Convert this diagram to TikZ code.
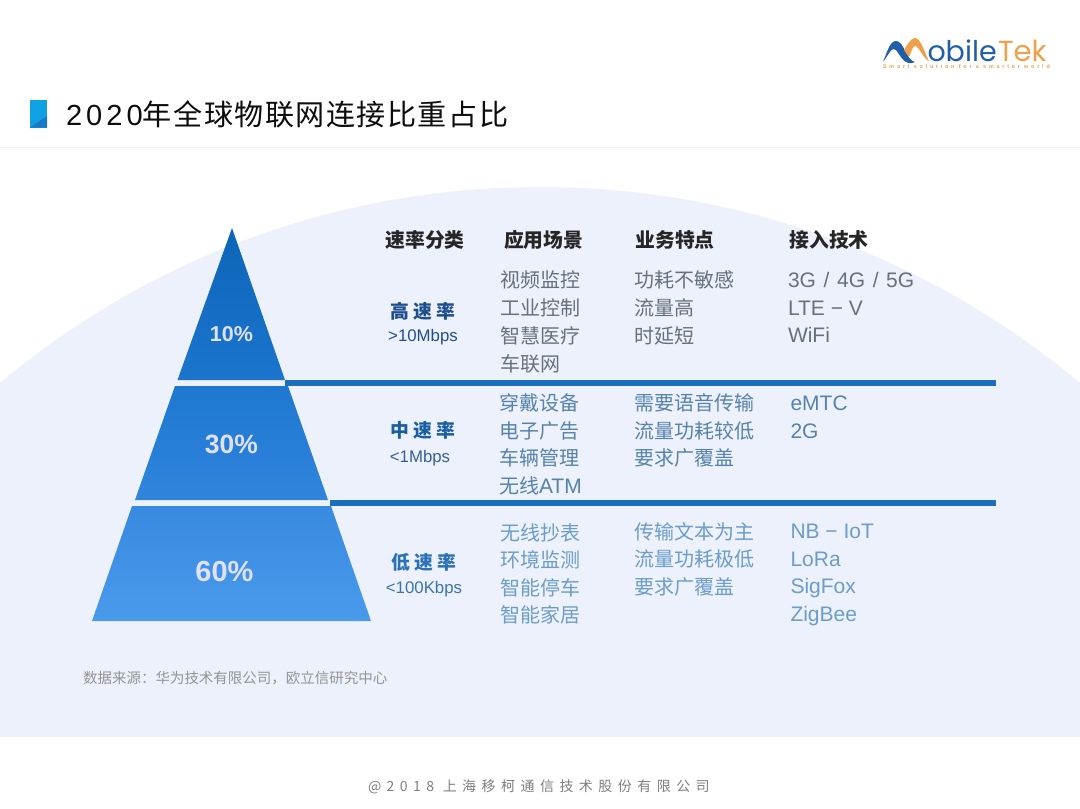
\documentclass[tikz,border=0pt]{standalone}
\usepackage{fontspec}
\setmainfont{Noto Sans CJK SC}
\newfontfamily\logofont{Poppins}
\newfontfamily\tagfont[LetterSpace=52]{Liberation Sans}
\newfontfamily\titlefont[LetterSpace=5]{Noto Sans CJK SC}
\newfontfamily\titledigits[LetterSpace=14]{Liberation Sans}
\newfontfamily\footfont[LetterSpace=39]{Noto Sans CJK SC}
\newfontfamily\rankfont[LetterSpace=24]{Noto Sans CJK SC}
\newfontfamily\ratefont{Liberation Sans}
\newcommand{\latf}{\fontsize{21}{24}\ratefont}
\definecolor{bgarc}{HTML}{EDF1FC}
\definecolor{barblue}{HTML}{1C6EBF}
\definecolor{navy}{HTML}{1F4E8C}
\definecolor{logoblue}{HTML}{1F5FA8}
\definecolor{logoorange}{HTML}{F0A04B}
\definecolor{rowtop}{HTML}{66717D}
\definecolor{rowmid}{HTML}{5783AA}
\definecolor{rowlow}{HTML}{6C9DC9}
\definecolor{markcyan}{HTML}{0EA2E2}
\definecolor{markblue}{HTML}{1B78C8}
\tikzset{
  every node/.style={inner sep=0pt,outer sep=0pt},
  cell/.style={anchor=west,text height=20pt,text depth=4.8pt,font=\fontsize{20}{24}\selectfont},
  head/.style={anchor=west,text=black!85,font=\fontsize{19.8}{24}\selectfont\bfseries},
  rank/.style={anchor=center,font=\fontsize{18.8}{22}\rankfont\bfseries},
  rate/.style={anchor=center,font=\fontsize{16.8}{18}\ratefont},
  pct/.style={anchor=center,text=white!88!blue},
  bar/.style={line width=6pt,draw=barblue}
}
\begin{document}
\begin{tikzpicture}[x=1pt,y=-1pt]
\useasboundingbox (0,0) rectangle (1080,809);
\fill[white] (0,0) rectangle (1080,809);
% header
\fill[black!6] (0,146.5) rectangle (1080,147.5);
\begin{scope}
  \clip (0,147.5) rectangle (1080,736);
  \fill[bgarc] (540,1029) circle [radius=842pt];
\end{scope}
% title marker
\fill[markcyan] (30,100) rectangle (47,127.5);
\fill[markblue] (30,127.5) -- (47,127.5) -- (47,116) -- cycle;
\node[anchor=west,text=black!95,font=\fontsize{29.1}{32}\titlefont] (title) at (66,114) {{\titledigits 2020}年全球物联网连接比重占比};
% logo
\fill[logoblue] (883,62) .. controls (887,52) and (890,41) .. (896,41)
  .. controls (904,41) and (906,60) .. (915,62)
  .. controls (905,67) and (900,55) .. (896,50)
  .. controls (892,46) and (889,54) .. (883,62) -- cycle;
\fill[logoorange] (904,50) .. controls (907,45) and (911,38) .. (915,38)
  .. controls (921,38) and (925,54) .. (929,61)
  .. controls (924,60) and (919,46) .. (915,46)
  .. controls (912,46) and (911,54) .. (909,57) -- cycle;
\node[anchor=base west,text=logoblue,font=\fontsize{28.5}{30}\logofont] (logoa) at (927.5,61) {obile};
\node[anchor=base west,text=logoorange,font=\fontsize{29}{30}\logofont] (logob) at (998,61) {Tek};
\node[anchor=west,text=logoorange,font=\fontsize{5.4}{6}\tagfont\bfseries] (tag) at (883,66.5) {Smart solution for a smarter world};
% pyramid
\coordinate (apex) at (232,228);
\coordinate (bl1) at (177.5,380);
\coordinate (br1) at (285,380);
\coordinate (tl2) at (175,386);
\coordinate (tr2) at (288,386);
\coordinate (bl2) at (135,500);
\coordinate (br2) at (328,500);
\coordinate (tl3) at (132,506);
\coordinate (tr3) at (331,506);
\coordinate (bl3) at (92,621);
\coordinate (br3) at (371,621);
\shade[top color={rgb,255:red,13;green,101;blue,184},bottom color={rgb,255:red,27;green,117;blue,205}] (apex) -- (br1) -- (bl1) -- cycle;
\shade[top color={rgb,255:red,30;green,120;blue,208},bottom color={rgb,255:red,48;green,132;blue,220}] (tl2) -- (tr2) -- (br2) -- (bl2) -- cycle;
\shade[top color={rgb,255:red,56;green,138;blue,224},bottom color={rgb,255:red,74;green,154;blue,236}] (tl3) -- (tr3) -- (br3) -- (bl3) -- cycle;
\node[pct,font=\fontsize{21.5}{24}\ratefont\bfseries] (p10) at (231.5,334) {10\%};
\node[pct,font=\fontsize{26.5}{30}\ratefont\bfseries] (p30) at (231.5,444) {30\%};
\node[pct,font=\fontsize{29}{32}\ratefont\bfseries] (p60) at (224.5,572) {60\%};
% bars
\coordinate (b1s) at (285,383);
\coordinate (b1e) at (996,383);
\coordinate (b2s) at (330,503);
\coordinate (b2e) at (996,503);
\draw[bar] (b1s) -- (b1e);
\draw[bar] (b2s) -- (b2e);
% headers
\node[head] (h1) at (385.5,240) {速率分类};
\node[head] (h2) at (504,240) {应用场景};
\node[head] (h3) at (635.5,240) {业务特点};
\node[head] (h4) at (789.5,240) {接入技术};
% ranks
\node[rank,text=navy] (r1) at (423,311) {高速率};
\node[rate,text=navy] (s1) at (423,337) {>10Mbps};
\node[rank,text=barblue!85!black] (r2) at (423,430) {中速率};
\node[rate,text=navy!90] (s2) at (420,458) {<1Mbps};
\node[rank,text=barblue!85!gray] (r3) at (424,562) {低速率};
\node[rate,text=barblue!70!gray] (s3) at (424,589) {<100Kbps};
% row 1
\begin{scope}[text=rowtop]
\node[cell] (a11) at (500.5,280) {视频监控};
\node[cell] (a12) at (500.5,308) {工业控制};
\node[cell] (a13) at (500.5,335.5) {智慧医疗};
\node[cell] (a14) at (500.5,363.5) {车联网};
\node[cell] (b11) at (634.5,279.5) {功耗不敏感};
\node[cell] (b12) at (634.5,308) {流量高};
\node[cell] (b13) at (634.5,335.5) {时延短};
\node[cell,font=\latf] (c11) at (788,279.5) {3G\kern1.8pt\ /\kern1.8pt\ 4G\kern1.8pt\ /\kern1.8pt\ 5G};
\node[cell,font=\latf] (c12) at (788,307.5) {LTE − V};
\node[cell,font=\latf] (c13) at (788,335) {WiFi};
\end{scope}
% row 2
\begin{scope}[text=rowmid]
\node[cell] (a21) at (499,403) {穿戴设备};
\node[cell] (a22) at (499,430.5) {电子广告};
\node[cell] (a23) at (499,458) {车辆管理};
\node[cell] (a24) at (499,485.5) {无线{\latf ATM}};
\node[cell] (b21) at (634,402.5) {需要语音传输};
\node[cell] (b22) at (634,430.5) {流量功耗较低};
\node[cell] (b23) at (634,458) {要求广覆盖};
\node[cell,font=\latf] (c21) at (790.5,402.5) {eMTC};
\node[cell,font=\latf] (c22) at (790.5,430.5) {2G};
\end{scope}
% row 3
\begin{scope}[text=rowlow]
\node[cell] (a31) at (500.5,533) {无线抄表};
\node[cell] (a32) at (500.5,560) {环境监测};
\node[cell] (a33) at (500.5,587.5) {智能停车};
\node[cell] (a34) at (500.5,615) {智能家居};
\node[cell] (b31) at (634,531.5) {传输文本为主};
\node[cell] (b32) at (634,559) {流量功耗极低};
\node[cell] (b33) at (634,586.5) {要求广覆盖};
\node[cell,font=\latf] (c31) at (790.5,530.5) {NB − IoT};
\node[cell,font=\latf] (c32) at (790.5,558.5) {LoRa};
\node[cell,font=\latf] (c33) at (790.5,586) {SigFox};
\node[cell,font=\latf] (c34) at (790.5,614) {ZigBee};
\end{scope}
% notes
\node[anchor=west,text=black!42,font=\fontsize{14.5}{16}\selectfont] (src) at (83,678) {数据来源：华为技术有限公司，欧立信研究中心};
\node[anchor=west,text=black!50,font=\fontsize{14}{16}\footfont] (copy) at (368,787) {@2018 上海移柯通信技术股份有限公司};
\end{tikzpicture}
\end{document}
